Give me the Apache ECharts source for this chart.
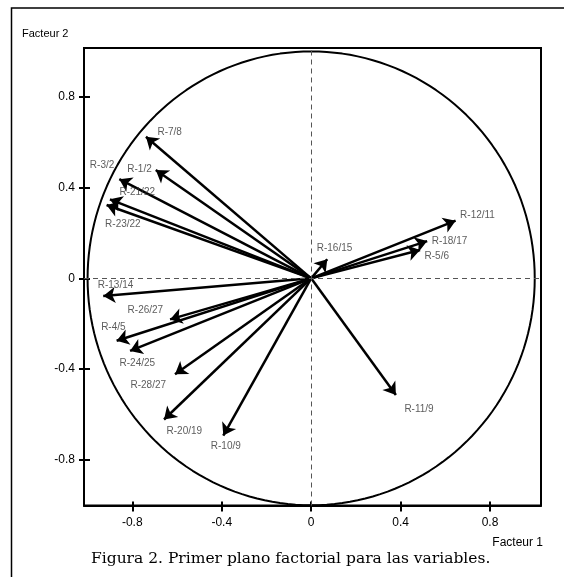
<!DOCTYPE html>
<html>
<head>
<meta charset="utf-8">
<script src="https://cdn.jsdelivr.net/npm/echarts@6/dist/echarts.min.js"></script>
<style>html,body{margin:0;padding:0;background:#fff}#c{width:564px;height:577px}</style>
</head>
<body>
<div id="c"></div>
<script>
// Variable names and coordinates on the first factorial plane
var variables = ['R-7/8','R-3/2','R-1/2','R-21/22','R-23/22','R-13/14','R-26/27','R-4/5','R-24/25','R-28/27','R-20/19','R-10/9','R-12/11','R-18/17','R-5/6','R-16/15','R-11/9'];
var factor1 = [-0.739,-0.858,-0.695,-0.900,-0.915,-0.930,-0.631,-0.870,-0.810,-0.609,-0.658,-0.393,0.646,0.519,0.487,0.072,0.379];
var factor2 = [0.624,0.437,0.477,0.348,0.323,-0.078,-0.181,-0.275,-0.320,-0.423,-0.622,-0.693,0.254,0.164,0.125,0.084,-0.514];
var tickValues = [-0.8,-0.4,0,0.4,0.8];

// label placement (style only): pixel offsets from the arrow tip
var labelOffsets = {
  'R-7/8':[11,-4],'R-3/2':[-30,-14],'R-1/2':[-29,-1],'R-21/22':[9,-7],'R-23/22':[-2,19],
  'R-13/14':[-6,-11],'R-26/27':[-43,-9],'R-4/5':[-16,-13],'R-24/25':[-11,12],'R-28/27':[-45,11],
  'R-20/19':[2,12],'R-10/9':[-13,11],'R-12/11':[4,-5],'R-18/17':[4,0],'R-5/6':[4,6],
  'R-16/15':[-11,-11],'R-11/9':[8,14]
};

var arrows = variables.map(function(n,i){ return {name:n, coords:[[0,0],[factor1[i],factor2[i]]]}; });
var tips = variables.map(function(n,i){
  return {name:n, value:[factor1[i],factor2[i]], label:{offset:labelOffsets[n]}};
});
// unit correlation circle
var circle = [];
for (var a = 0; a <= 360; a += 2) { var r = a*Math.PI/180; circle.push([Math.cos(r), Math.sin(r)]); }

var chart = echarts.init(document.getElementById('c'), null, {renderer:'canvas'});
var fmt = function(v){ return v === 0 ? '0' : String(Math.round(v*10)/10); };
var tickFont = {fontFamily:'Liberation Sans, Arial, sans-serif', fontSize:12, color:'#000'};
chart.setOption({
  backgroundColor:'#fff',
  animation:false,
  grid:{left:84, right:23, top:48, bottom:71.5, show:true, borderColor:'#000', borderWidth:2, backgroundColor:'transparent'},
  xAxis:[{
    type:'value', min:-1.016, max:1.028, position:'bottom',
    axisLine:{show:true, onZero:false, lineStyle:{color:'#000', width:2}},
    axisTick:{show:true, customValues:tickValues, length:6, lineStyle:{color:'#000', width:2}},
    axisLabel:Object.assign({customValues:tickValues, formatter:fmt, margin:11}, tickFont),
    splitLine:{show:false}
  },{
    type:'value', min:-1.016, max:1.028, position:'bottom',
    axisLine:{show:false, onZero:false},
    axisTick:{show:true, inside:true, customValues:tickValues, length:4, lineStyle:{color:'#000', width:2}},
    axisLabel:{show:false}, splitLine:{show:false}
  }],
  yAxis:[{
    type:'value', min:-1.001, max:1.015, position:'left',
    axisLine:{show:true, onZero:false, lineStyle:{color:'#000', width:2}},
    axisTick:{show:true, customValues:tickValues, length:5, lineStyle:{color:'#000', width:2}},
    axisLabel:Object.assign({customValues:tickValues, formatter:fmt, margin:9}, tickFont),
    splitLine:{show:false}
  },{
    type:'value', min:-1.001, max:1.015, position:'left',
    axisLine:{show:false, onZero:false},
    axisTick:{show:true, inside:true, customValues:tickValues, length:6, lineStyle:{color:'#000', width:2}},
    axisLabel:{show:false}, splitLine:{show:false}
  }],
  series:[
    {
      type:'line', name:'circle', data:circle, showSymbol:false, symbol:'none', silent:true,
      lineStyle:{color:'#000', width:2}, z:2,
      markLine:{
        silent:true, symbol:'none', label:{show:false},
        lineStyle:{color:'#555', width:1, type:[5,4]},
        data:[{xAxis:0},{yAxis:0}]
      }
    },
    {
      type:'lines', coordinateSystem:'cartesian2d', data:arrows, silent:true,
      symbol:['none','arrow'], symbolSize:12,
      lineStyle:{color:'#000', width:2.5, opacity:1}, z:3
    },
    {
      type:'scatter', data:tips, symbolSize:1, itemStyle:{color:'transparent'}, silent:true, z:4,
      label:{show:true, position:'right', distance:0, formatter:'{b}',
        fontFamily:'Liberation Sans, Arial, sans-serif', fontSize:10, color:'#333'}
    }
  ],
  graphic:[
    {type:'polyline', silent:true, shape:{points:[[11.5,577],[11.5,8],[564,8]]}, style:{stroke:'#000', lineWidth:1.5, fill:null}},
    {type:'text', left:22, top:28, style:{text:'Facteur 2', fontFamily:'Liberation Sans, Arial, sans-serif', fontSize:11, fill:'#000'}},
    {type:'text', right:21, top:537, style:{text:'Facteur 1', fontFamily:'Liberation Sans, Arial, sans-serif', fontSize:12, fill:'#000'}},
    {type:'text', left:91, top:551, style:{text:'Figura 2. Primer plano factorial para las variables.', fontFamily:'DejaVu Serif, serif', fontSize:15.5, fill:'#000'}}
  ]
});
</script>
</body>
</html>
